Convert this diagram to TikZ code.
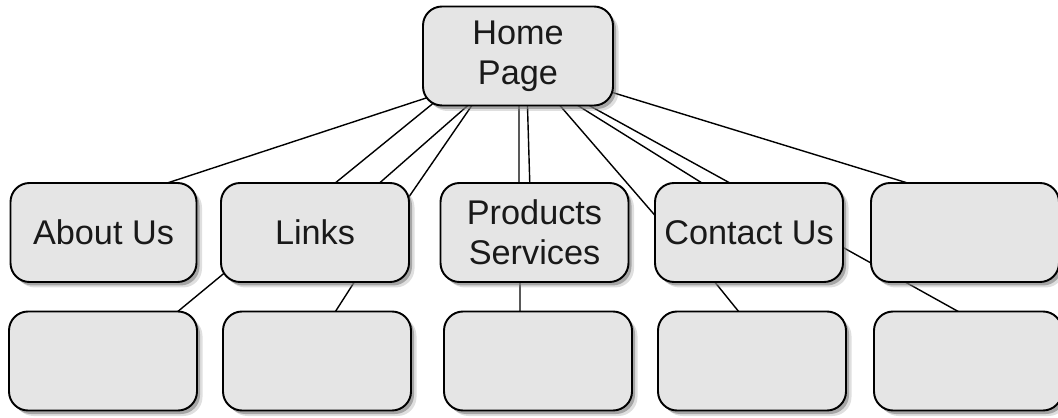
\documentclass[tikz,border=0pt]{standalone}
\usepackage{fontspec}
\setmainfont{Liberation Sans}
\usetikzlibrary{shadows, backgrounds}

\begin{document}
\begin{tikzpicture}[
  page/.style={draw=black, line width=1.1pt, fill=gray!20, rounded corners=0.38cm,
    minimum width=3.76cm, minimum height=1.98cm, inner sep=0pt, align=center,
    font=\fontsize{19.5}{22.8}\selectfont, text=black!90,
    drop shadow={shadow xshift=0.11cm, shadow yshift=-0.11cm, opacity=0.25},
    drop shadow={shadow xshift=0.06cm, shadow yshift=-0.07cm, opacity=0.6}},
  link/.style={line width=0.8pt}
]

\useasboundingbox (0,0) rectangle (21.16,8.34);

%top
\node [page, minimum width=3.8cm] (home) at (10.36,7.22) {Home\\Page};

%first row
\node [page, minimum width=3.72cm] (about) at (2.07,3.69) {About Us};
\node [page] (links) at (6.30,3.69) {Links};
\node [page] (products) at (10.69,3.69) {Products\\Services};
\node [page] (contact) at (14.98,3.69) {Contact Us};
\node [page] (blank) at (19.30,3.69) {};

%second row
\node [page] (sub1) at (2.06,1.12) {};
\node [page] (sub2) at (6.34,1.12) {};
\node [page] (sub3) at (10.76,1.12) {};
\node [page] (sub4) at (15.04,1.12) {};
\node [page] (sub5) at (19.36,1.12) {};

%lines
\begin{scope}[on background layer]
\draw[link] ([shift={(-1.35,-0.68)}]home.center) -- ([shift={(0.82,0.84)}]about.center);
\draw[link] ([shift={(-1.37,-0.68)}]home.center) -- ([shift={(0.22,0.84)}]links.center);
\draw[link] ([shift={(-0.65,-0.68)}]home.center) -- ([shift={(1.12,0.84)}]links.center);
\draw[link] ([shift={(-0.71,-0.68)}]home.center) -- ([shift={(1.76,0.54)}]links.center);
\draw[link] ([shift={(0.02,-0.68)}]home.center) -- ([shift={(-0.31,0.84)}]products.center);
\draw[link] ([shift={(0.18,-0.68)}]home.center) -- ([shift={(-0.09,0.84)}]products.center);
\draw[link] ([shift={(0.57,-0.68)}]home.center) -- ([shift={(-1.68,0.11)}]contact.center);
\draw[link] ([shift={(0.70,-0.68)}]home.center) -- ([shift={(-0.70,0.84)}]contact.center);
\draw[link] ([shift={(0.86,-0.68)}]home.center) -- ([shift={(-0.11,0.84)}]contact.center);
\draw[link] ([shift={(1.40,-0.58)}]home.center) -- ([shift={(-0.66,0.84)}]blank.center);

\draw[link] ([shift={(-1.63,-0.66)}]links.center) -- ([shift={(1.29,0.82)}]sub1.center);
\draw[link] ([shift={(0.87,-0.86)}]links.center) -- ([shift={(0.26,0.82)}]sub2.center);
\draw[link] ([shift={(-0.29,-0.86)}]products.center) -- ([shift={(-0.36,0.82)}]sub3.center);
\draw[link] ([shift={(-0.79,-0.86)}]contact.center) -- ([shift={(-0.13,0.82)}]sub4.center);
\draw[link] ([shift={(1.63,-0.16)}]contact.center) -- ([shift={(0.11,0.82)}]sub5.center);
\end{scope}

\end{tikzpicture}
\end{document}
